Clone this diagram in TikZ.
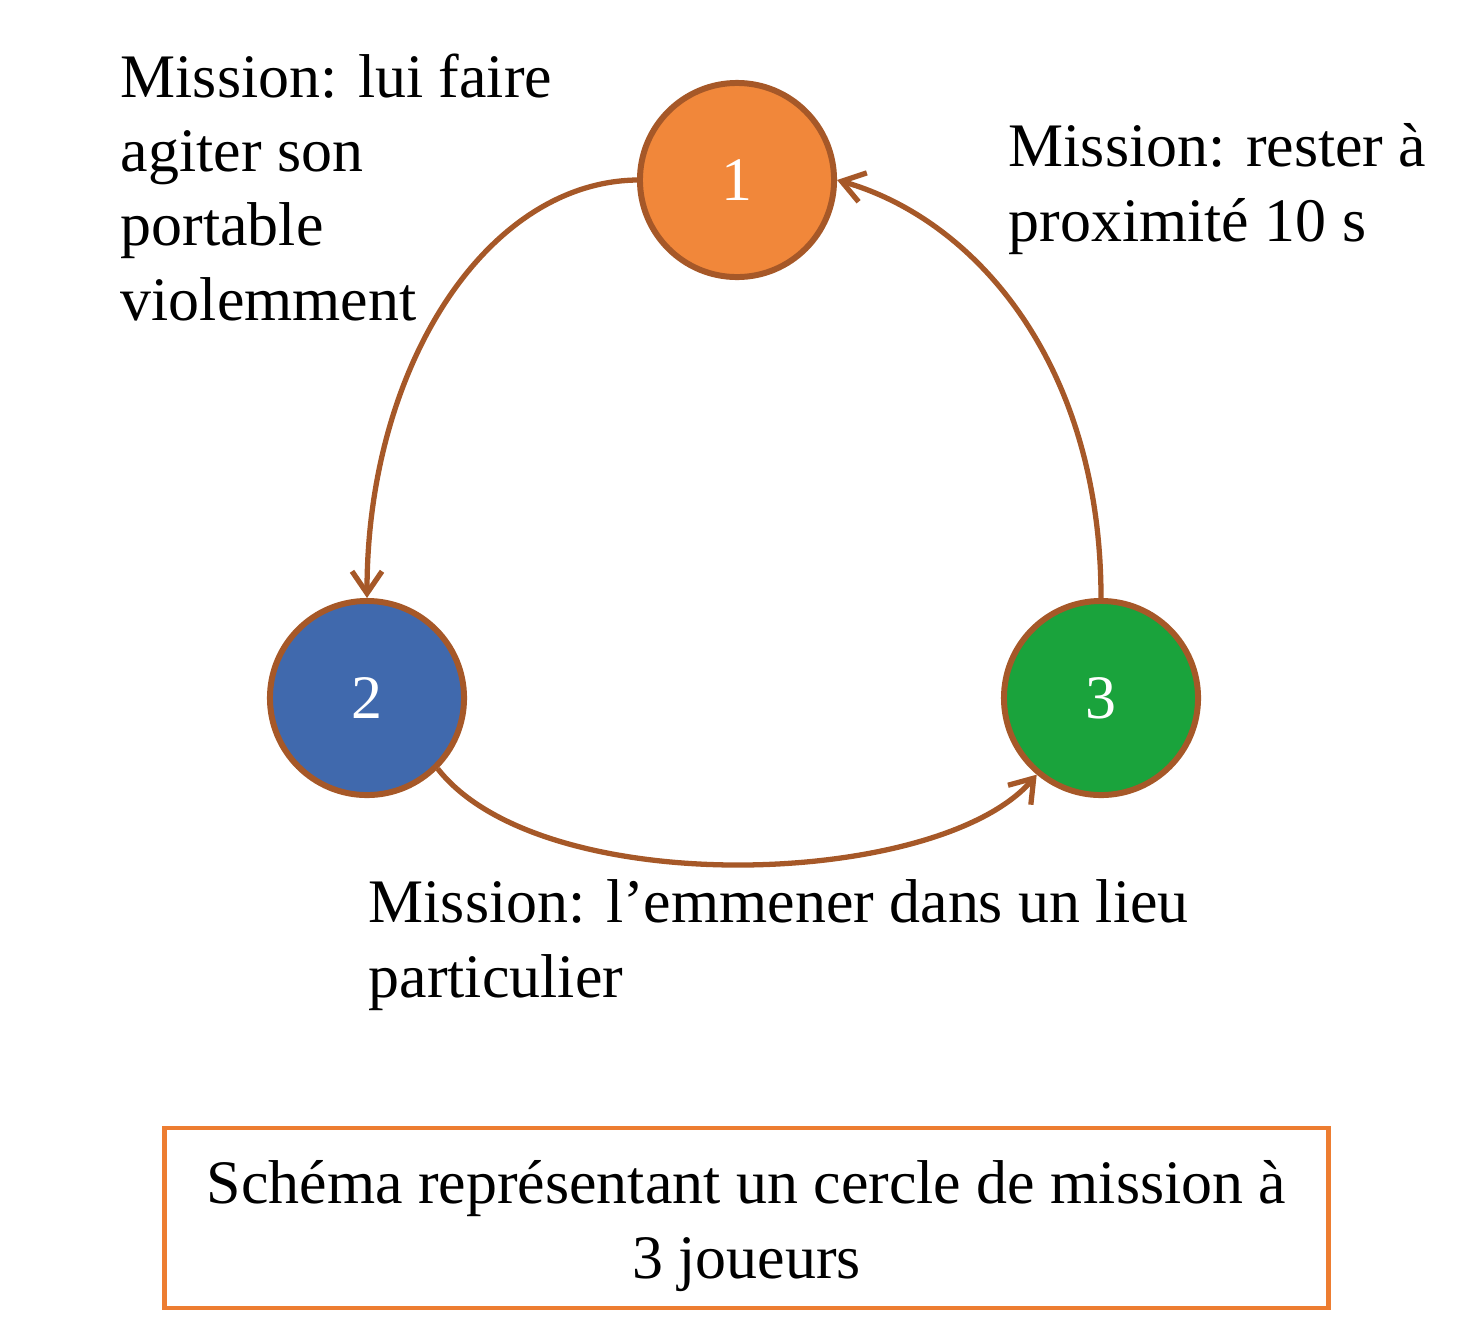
\documentclass[tikz,border=0pt]{standalone}
\usepackage{fontspec}
\setmainfont{Liberation Serif}
\usetikzlibrary{arrows.meta}
\definecolor{linebrown}{RGB}{166,88,40}
\definecolor{fillorange}{RGB}{241,135,58}
\definecolor{fillblue}{RGB}{64,105,173}
\definecolor{fillgreen}{RGB}{26,163,60}
\definecolor{boxorange}{RGB}{237,125,49}
\newcommand{\txt}{\fontsize{17.6}{21.1}\selectfont}

\begin{document}
\begin{tikzpicture}[x=0.01cm,y=-0.01cm,
    player/.style={circle,draw=linebrown,line width=1.7pt,minimum size=1.94cm,inner sep=0pt,text=white,font=\txt},
    mission/.style={align=left,inner sep=0pt,font=\txt},
    link/.style={draw=linebrown,line width=1.5pt,-{Straight Barb[length=2.2mm,width=3mm]}}]
  \useasboundingbox (0,0) rectangle (1480,1339);
  \node[player,fill=fillorange] (p1) at (737,180) {1};
  \node[player,fill=fillblue] (p2) at (367,698) {2};
  \node[player,fill=fillgreen] (p3) at (1101,698) {3};

  \node[mission,anchor=base west] (m1) at (120,320) {Mission: lui faire\\agiter son\\portable\\violemment};
  \node[mission,anchor=base west] (m3) at (1008,241) {Mission: rester à\\proximité 10 s};
  \node[mission,anchor=base west] (m2) at (368,997) {Mission: l’emmener dans un lieu\\particulier};

  \node[draw=boxorange,line width=1.3pt,minimum width=11.63cm,minimum height=1.8cm] (cap) at (746.5,1218) {};
  \node[align=center,inner sep=0pt,font=\txt] (captxt) at (746.5,1226)
    {Schéma représentant un cercle de mission à\\3 joueurs};

  \draw[link] (p1.west)..controls +(-150,2) and +(0,-232) .. (p2.north);
  \draw[link] (p3.north)..controls +(0,-232) and +(140,40) .. (p1.east);
  \draw[link] (p2.-45)..controls +(104,133) and +(-97,114) .. (p3.-130);
\end{tikzpicture}
\end{document}
